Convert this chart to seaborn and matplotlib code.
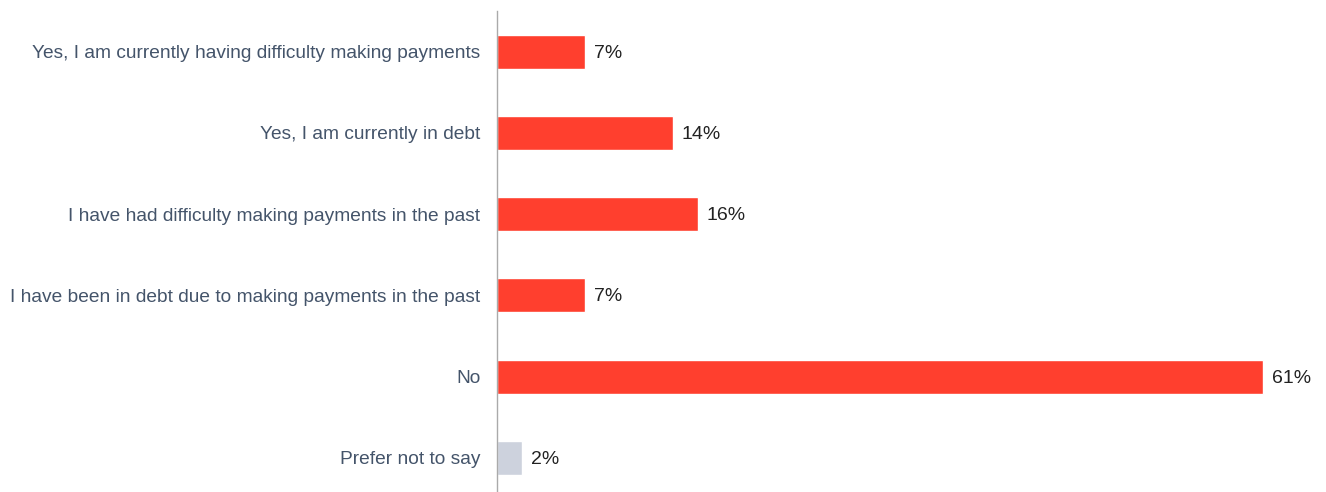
import matplotlib
matplotlib.use("Agg")
import matplotlib.pyplot as plt
import seaborn as sns
import pandas as pd

categories = [
    "Yes, I am currently having difficulty making payments",
    "Yes, I am currently in debt",
    "I have had difficulty making payments in the past",
    "I have been in debt due to making payments in the past",
    "No",
    "Prefer not to say",
]
values = [7, 14, 16, 7, 61, 2]
value_labels = ["7%", "14%", "16%", "7%", "61%", "2%"]
bar_colors = ["#FF3F2E", "#FF3F2E", "#FF3F2E", "#FF3F2E", "#FF3F2E", "#CDD2DD"]

sns.set_theme(style="white")
plt.rcParams["font.family"] = ["Liberation Sans", "DejaVu Sans"]

df = pd.DataFrame({"answer": categories, "share": values})

fig = plt.figure(figsize=(13.26, 4.92), dpi=100)
ax = fig.add_axes([497 / 1326, 0.0, (1313 - 497) / 1326, 481 / 492])

sns.barplot(data=df, x="share", y="answer", hue="answer", palette=bar_colors,
            legend=False, width=0.42, ax=ax, saturation=1)

for patch, lab in zip(ax.patches, value_labels):
    ax.annotate(lab, (patch.get_width(), patch.get_y() + patch.get_height() / 2),
                xytext=(6.5, -1), textcoords="offset points", va="center", ha="left",
                fontsize=14, color="#222222")

ax.set_xlim(0, 65)
ax.set_ylim(5.42, -0.5)
ax.set_xlabel("")
ax.set_ylabel("")
ax.set_xticks([])
ax.tick_params(axis="y", length=0, pad=12, labelsize=13.8, labelcolor="#44546A")
for side in ["top", "right", "bottom"]:
    ax.spines[side].set_visible(False)
ax.spines["left"].set_color("#AAAAAA")
ax.spines["left"].set_linewidth(1)

fig.savefig("out.png", dpi=100)
